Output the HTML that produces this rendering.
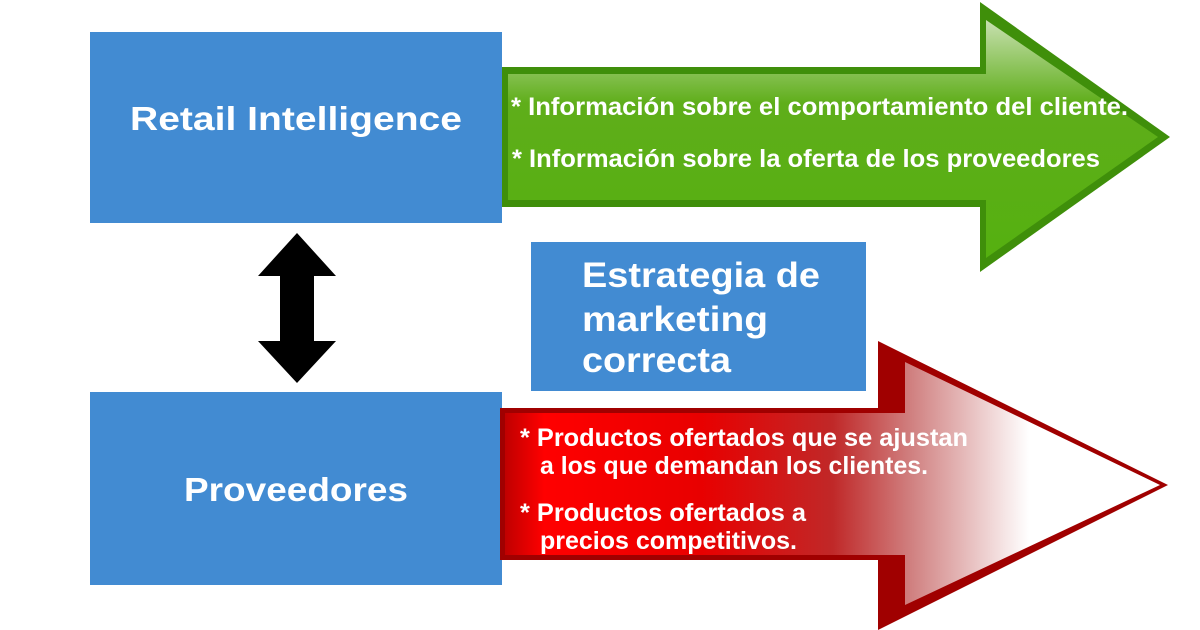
<!DOCTYPE html>
<html><head><meta charset="utf-8"><style>body{margin:0;background:#fff}svg{display:block}</style></head><body>
<svg width="1200" height="630" viewBox="0 0 1200 630" xmlns="http://www.w3.org/2000/svg" font-family="Liberation Sans, sans-serif" font-weight="bold" fill="#fff">
<defs>
<linearGradient id="gg" x1="0" y1="0" x2="0" y2="1"><stop offset="0" stop-color="#c8e0b0"/><stop offset="0.35" stop-color="#5fae1a"/><stop offset="1" stop-color="#55b010"/></linearGradient>
<linearGradient id="rg" x1="0" y1="0" x2="1" y2="0"><stop offset="0" stop-color="#c00000"/><stop offset="0.06" stop-color="#ff0000"/><stop offset="0.3" stop-color="#e80000"/><stop offset="0.5" stop-color="#c02828"/><stop offset="0.62" stop-color="#d08080"/><stop offset="0.8" stop-color="#ffffff"/><stop offset="1" stop-color="#ffffff"/></linearGradient>
</defs>
<rect x="90" y="32" width="412" height="191" fill="#428bd2"/>
<rect x="90" y="392" width="412" height="193" fill="#428bd2"/>
<rect x="531" y="242" width="335" height="149" fill="#428bd2"/>
<polygon points="502,67 980,67 980,2 1170,137 980,272 980,207 502,207" fill="#3f8f0a"/>
<polygon points="508,74 986,74 986,20 1158,137 986,258 986,200 508,200" fill="url(#gg)"/>
<polygon points="500,408 878,408 878,341 1168,485 878,630 878,560 500,560" fill="#a00000"/>
<polygon points="505,413 905,413 905,362 1160,485 905,605 905,555 505,555" fill="url(#rg)"/>
<polygon points="297,233 336,276 314,276 314,341 336,341 297,383 258,341 280,341 280,276 258,276" fill="#000"/>
<text x="130" y="130" font-size="33" textLength="332" lengthAdjust="spacingAndGlyphs">Retail Intelligence</text>
<text x="184" y="501" font-size="33" textLength="224" lengthAdjust="spacingAndGlyphs">Proveedores</text>
<text x="582" y="287" font-size="35" textLength="238" lengthAdjust="spacingAndGlyphs">Estrategia de</text>
<text x="582" y="331" font-size="35" textLength="186" lengthAdjust="spacingAndGlyphs">marketing</text>
<text x="582" y="372" font-size="35" textLength="149" lengthAdjust="spacingAndGlyphs">correcta</text>
<g font-size="25">
<text x="511" y="115" textLength="617" lengthAdjust="spacingAndGlyphs">* Información sobre el comportamiento del cliente.</text>
<text x="512" y="167" textLength="588" lengthAdjust="spacingAndGlyphs">* Información sobre la oferta de los proveedores</text>
<text x="520" y="446" textLength="448" lengthAdjust="spacingAndGlyphs">* Productos ofertados que se ajustan</text>
<text x="540" y="474" textLength="388" lengthAdjust="spacingAndGlyphs">a los que demandan los clientes.</text>
<text x="520" y="521" textLength="286" lengthAdjust="spacingAndGlyphs">* Productos ofertados a</text>
<text x="540" y="549" textLength="257" lengthAdjust="spacingAndGlyphs">precios competitivos.</text>
</g>
</svg>
</body></html>
